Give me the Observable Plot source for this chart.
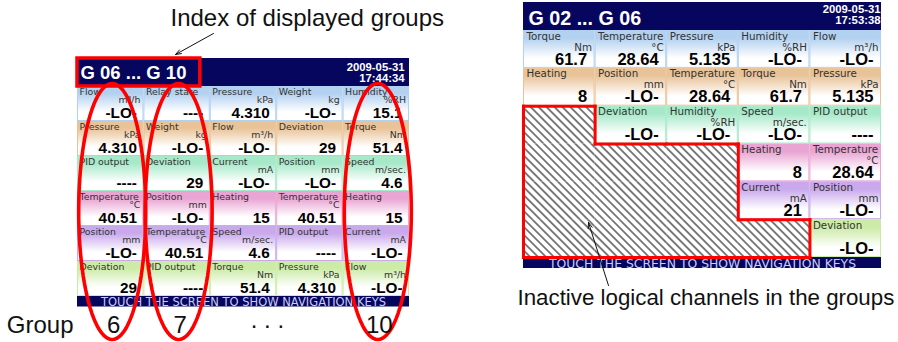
<!DOCTYPE html>
<html><head><meta charset="utf-8">
<script src="https://cdn.jsdelivr.net/npm/d3@7"></script>
<script src="https://cdn.jsdelivr.net/npm/@observablehq/plot@0.6"></script>
<style>
html,body{margin:0;padding:0;background:#fff;}
#wrap{position:relative;width:898px;height:342px;overflow:hidden;background:#fff;}
#wrap svg{position:absolute;left:0;top:0;}
</style></head><body><div id="wrap"></div>
<script>
// ---------------- data ----------------
const rowColors = ["#b2d0f0", "#e9c398", "#a6e9c9", "#e9a4d3", "#c9a8ec", "#cbeba6"];
const footerText = "TOUCH THE SCREEN TO SHOW NAVIGATION KEYS";

const leftTitle = "G 06 ... G 10";
const leftDate = ["2009-05-31", "17:44:34"];
const leftLabels = [
  "Flow", "Relay state", "Pressure", "Weight", "Humidity",
  "Pressure", "Weight", "Flow", "Deviation", "Torque",
  "PID output", "Deviation", "Current", "Position", "Speed",
  "Temperature", "Position", "Heating", "Temperature", "Heating",
  "Position", "Temperature", "Speed", "PID output", "Current",
  "Deviation", "PID output", "Torque", "Pressure", "Flow"];
const leftUnits = [
  "m³/h", "", "kPa", "kg", "%RH",
  "kPa", "kg", "m³/h", "", "Nm",
  "", "", "mA", "mm", "m/sec.",
  "°C", "mm", "", "°C", "",
  "mm", "°C", "m/sec.", "", "mA",
  "", "", "Nm", "kPa", "m³/h"];
const leftValues = [
  "-LO-", "----", "4.310", "-LO-", "15.1",
  "4.310", "-LO-", "-LO-", "29", "51.4",
  "----", "29", "-LO-", "-LO-", "4.6",
  "40.51", "-LO-", "15", "40.51", "15",
  "-LO-", "40.51", "4.6", "----", "-LO-",
  "29", "----", "51.4", "4.310", "-LO-"];

const rightTitle = "G 02 ... G 06";
const rightDate = ["2009-05-31", "17:53:38"];
const rightLabels = [
  "Torque", "Temperature", "Pressure", "Humidity", "Flow",
  "Heating", "Position", "Temperature", "Torque", "Pressure",
  null, "Deviation", "Humidity", "Speed", "PID output",
  null, null, null, "Heating", "Temperature",
  null, null, null, "Current", "Position",
  null, null, null, null, "Deviation"];
const rightUnits = [
  "Nm", "°C", "kPa", "%RH", "m³/h",
  "", "mm", "°C", "Nm", "kPa",
  null, "", "%RH", "m/sec.", "",
  null, null, null, "", "°C",
  null, null, null, "mA", "mm",
  null, null, null, null, ""];
const rightValues = [
  "61.7", "28.64", "5.135", "-LO-", "-LO-",
  "8", "-LO-", "28.64", "61.7", "5.135",
  null, "-LO-", "-LO-", "-LO-", "----",
  null, null, null, "8", "28.64",
  null, null, null, "21", "-LO-",
  null, null, null, null, "-LO-"];

const groupCols = [0, 1, 4];
const groupNames = ["6", "7", "10"];
const groupWord = "Group";
const groupDots = ". . .";
const noteTop = "Index of displayed groups";
const noteBottom = "Inactive logical channels in the groups";

// ---------------- layout ----------------
const NAVY = "#06065f";
const COLS = 5, ROWS = 6;
const LEFT = {id: "l", xRange: [77, 409], yRange: [58, 306.5], yDomain: [-0.8, 6.3],
  fs: {label: 9.4, labelDx: 2, labelDy: 8, unitDx: -3.5, unitDy: 16, value: 15.3, valueDx: -7, valueDy: 31,
       title: 18.5, titleDx: 3, titleDy: 20.5, date: 11.3, dateDx: -5, dateDy: [12.5, 23.5], foot: 11.5, footDy: -1}};
const RIGHT = {id: "r", xRange: [523, 881], yRange: [2, 268], yDomain: [-0.74, 6.29],
  fs: {label: 10.3, labelDx: 3, labelDy: 9, unitDx: -3, unitDy: 20, value: 16.5, valueDx: -8, valueDy: 34,
       title: 19.7, titleDx: 5, titleDy: 22, date: 11.3, dateDx: -1, dateDy: [10, 21], foot: 12.4, footDy: -1}};

function makeCells(labels, units, values) {
  return labels.map((l, i) => ({col: i % COLS, row: Math.floor(i / COLS), label: l, unit: units[i], value: values[i], active: l !== null}));
}

function addDefs(svg, id) {
  const defs = d3.select(svg).insert("defs", ":first-child");
  rowColors.forEach((c, r) => {
    const g = defs.append("linearGradient").attr("id", `${id}g${r}`)
      .attr("x1", 0).attr("y1", 0).attr("x2", 0).attr("y2", 1);
    g.append("stop").attr("offset", 0).attr("stop-color", c);
    g.append("stop").attr("offset", 0.2).attr("stop-color", c);
    g.append("stop").attr("offset", 0.75).attr("stop-color", "#ffffff");
  });
  const s = 5.6;
  const p = defs.append("pattern").attr("id", `${id}hatch`).attr("patternUnits", "userSpaceOnUse")
    .attr("width", s).attr("height", s).attr("patternTransform", "rotate(-45)");
  p.append("rect").attr("width", s).attr("height", s).attr("fill", "#fff");
  p.append("line").attr("x1", s / 2).attr("x2", s / 2).attr("y1", 0).attr("y2", s)
    .attr("stroke", "#000").attr("stroke-width", 1);
}

function outline(cells) {
  const off = new Set(cells.filter(d => !d.active).map(d => d.row * COLS + d.col));
  const isOff = (r, c) => r >= 0 && r < ROWS && c >= 0 && c < COLS && off.has(r * COLS + c);
  const segs = [];
  cells.filter(d => !d.active).forEach(({row: r, col: c}) => {
    if (!isOff(r - 1, c)) segs.push({x1: c, x2: c + 1, y1: r, y2: r});
    if (!isOff(r + 1, c)) segs.push({x1: c, x2: c + 1, y1: r + 1, y2: r + 1});
    if (!isOff(r, c - 1)) segs.push({x1: c, x2: c, y1: r, y2: r + 1});
    if (!isOff(r, c + 1)) segs.push({x1: c + 1, x2: c + 1, y1: r, y2: r + 1});
  });
  return segs;
}

function panel(cfg, cells, title, date, extra) {
  const {id, xRange, yRange, yDomain, fs} = cfg;
  const [yTop, yBot] = yDomain;
  const one = [0];
  const active = cells.filter(d => d.active);
  const marks = [
    Plot.rect(one, {x1: () => 0, x2: () => COLS, y1: () => yTop, y2: () => 0, fill: NAVY}),
    Plot.rect(one, {x1: () => 0, x2: () => COLS, y1: () => ROWS, y2: () => yBot, fill: NAVY}),
    ...rowColors.map((c, r) => Plot.rect(active.filter(d => d.row === r), {
      x1: "col", x2: d => d.col + 1, y1: "row", y2: d => d.row + 1,
      fill: `url(#${id}g${r})`, stroke: c, strokeWidth: 1, inset: 0.5})),
    Plot.rect(cells.filter(d => !d.active), {x1: "col", x2: d => d.col + 1, y1: "row", y2: d => d.row + 1, fill: `url(#${id}hatch)`}),
    Plot.text(active, {x: "col", y: "row", text: "label", dx: fs.labelDx, dy: fs.labelDy, textAnchor: "start", lineAnchor: "bottom",
      fontFamily: "DejaVu Sans", fontSize: fs.label, fill: "#333"}),
    Plot.text(active.filter(d => d.unit), {x: d => d.col + 1, y: "row", text: "unit", dx: fs.unitDx, dy: fs.unitDy, textAnchor: "end", lineAnchor: "bottom",
      fontFamily: "DejaVu Sans", fontSize: fs.label, fill: "#333"}),
    Plot.text(active, {x: d => d.col + 1, y: "row", text: "value", dx: fs.valueDx, dy: fs.valueDy, textAnchor: "end", lineAnchor: "bottom",
      fontFamily: "Liberation Sans", fontWeight: "bold", fontSize: fs.value, fill: "#000"}),
    Plot.text([title], {x: () => 0, y: () => yTop, text: d => d, dx: fs.titleDx, dy: fs.titleDy, textAnchor: "start", lineAnchor: "bottom",
      fontFamily: "Liberation Sans", fontWeight: "bold", fontSize: fs.title, fill: "#fff"}),
    Plot.text([date[0]], {x: () => COLS, y: () => yTop, text: d => d, dx: fs.dateDx, dy: fs.dateDy[0], textAnchor: "end", lineAnchor: "bottom",
      fontFamily: "Liberation Sans", fontWeight: "bold", fontSize: fs.date, fill: "#fff"}),
    Plot.text([date[1]], {x: () => COLS, y: () => yTop, text: d => d, dx: fs.dateDx, dy: fs.dateDy[1], textAnchor: "end", lineAnchor: "bottom",
      fontFamily: "Liberation Sans", fontWeight: "bold", fontSize: fs.date, fill: "#fff"}),
    Plot.text([footerText], {x: () => COLS / 2, y: () => yBot, text: d => d, dy: fs.footDy, textAnchor: "middle", lineAnchor: "bottom",
      fontFamily: "DejaVu Sans", fontSize: fs.foot, fill: "#c9cdf6"}),
    ...extra
  ];
  const svg = Plot.plot({
    width: 898, height: 342, margin: 0,
    x: {domain: [0, COLS], range: xRange, axis: null},
    y: {domain: yDomain, range: yRange, axis: null},
    style: {background: "transparent", overflow: "visible"},
    marks
  });
  addDefs(svg, id);
  return svg;
}

// ---------------- left panel ----------------
const leftCells = makeCells(leftLabels, leftUnits, leftValues);
const ELL = {rx: 0.505, cy: 3.571, ry: 3.657, n: 96};
const ellipsePts = groupCols.flatMap((c, k) => d3.range(ELL.n + 1).map(i => {
  const t = i / ELL.n * 2 * Math.PI;
  return {g: groupNames[k], x: c + 0.5 + ELL.rx * Math.cos(t), y: ELL.cy + ELL.ry * Math.sin(t)};
}));
const groupLabelY = 7.057;
const groups = groupCols.map((c, k) => ({col: c, name: groupNames[k]}));
const leftExtra = [
  Plot.rect([0], {x1: () => 0, x2: () => 1.85, y1: () => LEFT.yDomain[0], y2: () => 0, fill: "none", stroke: "#ff0000", strokeWidth: 3.5}),
  Plot.line(ellipsePts, {x: "x", y: "y", z: "g", stroke: "#ff0000", strokeWidth: 3.6, dx: 1.5}),
  Plot.text(groups, {x: d => d.col + 0.5, y: () => groupLabelY, text: "name", dx: 3, textAnchor: "middle", lineAnchor: "bottom",
    fontFamily: "Liberation Sans", fontSize: 24, fill: "#111"}),
  Plot.text([groupWord], {x: () => 0, y: () => groupLabelY, text: d => d, dx: -4, textAnchor: "end", lineAnchor: "bottom",
    fontFamily: "Liberation Sans", fontSize: 24, fill: "#111"}),
  Plot.text([groupDots], {x: () => 2.86, y: () => groupLabelY, text: d => d, dy: -5, textAnchor: "middle", lineAnchor: "bottom",
    fontFamily: "Liberation Sans", fontSize: 24, fill: "#111"})
];
const leftSvg = panel(LEFT, leftCells, leftTitle, leftDate, leftExtra);

// ---------------- right panel ----------------
const rightCells = makeCells(rightLabels, rightUnits, rightValues);
const rightExtra = [
  Plot.link(outline(rightCells), {x1: "x1", x2: "x2", y1: "y1", y2: "y2", stroke: "#ff0000", strokeWidth: 3, strokeLinecap: "square"})
];
const rightSvg = panel(RIGHT, rightCells, rightTitle, rightDate, rightExtra);

// ---------------- free annotations (pixel scale) ----------------
const notes = [
  {text: noteTop, x: 170, y: 25, size: 24},
  {text: noteBottom, x: 517, y: 304, size: 22.3}
];
const arrows = [
  {x1: 213, y1: 33, x2: 175, y2: 54},
  {x1: 608, y1: 285, x2: 588, y2: 222}
];
const overlay = Plot.plot({
  width: 898, height: 342, margin: 0,
  x: {domain: [0, 898], range: [0, 898], axis: null},
  y: {domain: [0, 342], range: [0, 342], axis: null},
  style: {background: "transparent", overflow: "visible"},
  marks: [
    Plot.text(notes, {x: "x", y: "y", text: "text", fontSize: d => d.size, textAnchor: "start", lineAnchor: "bottom",
      fontFamily: "Liberation Sans", fill: "#111"}),
    Plot.arrow(arrows, {x1: "x1", y1: "y1", x2: "x2", y2: "y2", stroke: "#111", strokeWidth: 1, headLength: 9, headAngle: 40})
  ]
});

const wrap = document.getElementById("wrap");
wrap.append(leftSvg, rightSvg, overlay);
</script></body></html>
